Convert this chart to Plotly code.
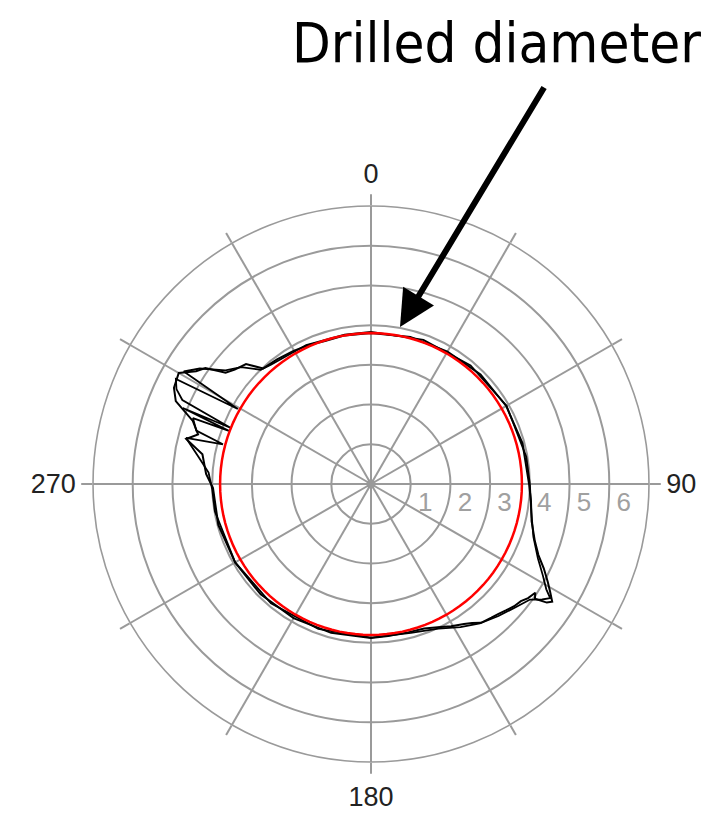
import plotly.graph_objects as go

# ---- data (theta in degrees clockwise from north, r in grid units) ----
pass1_theta = [0, 15, 30, 45, 60, 75, 90, 96, 103, 109, 113, 116, 119, 121, 123, 124, 125, 123.5,
               126, 128, 130.5, 133, 135.7, 138, 141.6, 144, 146.4, 150.6, 155, 159.8, 166, 173.6,
               180, 195, 210, 225, 240, 255, 268.5, 273.5, 280, 283.7, 286, 289.5, 293, 296, 300,
               302.8, 305, 307.4, 310, 313.8, 317, 323, 329.6, 336, 342.5, 350, 360]
pass1_r = [3.80, 3.83, 3.85, 3.90, 3.93, 3.95, 3.98, 4.05, 4.15, 4.36, 4.58, 4.84, 5.09, 5.26, 5.44,
           5.34, 5.04, 4.96, 4.89, 4.79, 4.74, 4.66, 4.58, 4.53, 4.46, 4.33, 4.23, 4.11, 3.98, 3.88,
           3.85, 3.85, 3.88, 3.88, 3.90, 3.93, 3.95, 3.98, 3.98, 4.16, 4.31, 4.79, 4.53, 4.76, 5.34,
           5.52, 5.59, 5.24, 5.09, 4.61, 4.48, 4.36, 3.98, 3.93, 3.88, 3.83, 3.78, 3.80, 3.80]

pass2_theta = [0, 20, 40, 60, 80, 90, 100, 108, 114, 118, 121, 122.5, 124, 126, 130, 136, 142, 148,
               155, 165, 180, 200, 220, 240, 260, 268, 274, 279, 284, 285, 287, 290.3, 290.5, 292,
               291.8, 294, 296, 298.3, 299.4, 301, 304, 308, 312, 316, 320, 335, 350, 360]
pass2_r = [3.83, 3.86, 3.90, 3.94, 3.97, 4.00, 4.10, 4.30, 4.60, 4.90, 5.15, 5.35, 5.20, 4.95, 4.80,
           4.62, 4.45, 4.25, 4.02, 3.88, 3.87, 3.88, 3.92, 3.95, 3.99, 4.00, 4.10, 4.40, 4.80, 3.86,
           4.60, 4.78, 3.82, 5.11, 3.80, 5.20, 5.45, 5.58, 3.85, 5.50, 5.20, 4.65, 4.40, 4.00, 3.92,
           3.86, 3.82, 3.83]

drill_theta = list(range(0, 361, 3))
drill_r = [3.8] * len(drill_theta)

radial_ticks = [1, 2, 3, 4, 5, 6, 7]
radial_text = ["1", "2", "3", "4", "5", "6", ""]
angle_ticks = list(range(0, 360, 30))
angle_text = ["0", "", "", "90", "", "", "180", "", "", "270", "", ""]

title_text = "Drilled diameter"

# ---- figure ----
W, H = 717, 819
cx, cy, R = 363, 476, 278

pad = "\u00a0" * 4
fig = go.Figure()
fig.add_trace(go.Scatterpolar(theta=pass2_theta, r=pass2_r, mode="lines",
                              line=dict(color="black", width=1.8), hoverinfo="skip"))
fig.add_trace(go.Scatterpolar(theta=pass1_theta, r=pass1_r, mode="lines",
                              line=dict(color="black", width=2), hoverinfo="skip"))
fig.add_trace(go.Scatterpolar(theta=drill_theta, r=drill_r, mode="lines",
                              line=dict(color="#ff0000", width=2.5), hoverinfo="skip"))
fig.add_trace(go.Scatterpolar(theta=[0], r=[0], mode="markers",
                              marker=dict(color="#999999", size=9), hoverinfo="skip"))

fig.update_layout(
    width=W, height=H,
    margin=dict(l=0, r=0, t=0, b=0),
    paper_bgcolor="white",
    showlegend=False,
    font=dict(family="Liberation Sans, Arial, sans-serif"),
    polar=dict(
        domain=dict(x=[(cx - R) / W, (cx + R) / W],
                    y=[(H - cy - R) / H, (H - cy + R) / H]),
        bgcolor="white",
        radialaxis=dict(range=[0, 7], tickvals=radial_ticks,
                        ticktext=[pad + t if t else t for t in radial_text],
                        angle=0, side="clockwise", showline=False, tickangle=0,
                        gridcolor="#9a9a9a", gridwidth=1.6, ticks="",
                        tickfont=dict(size=26, color="#a0a0a0")),
        angularaxis=dict(rotation=90, direction="clockwise",
                         tickvals=angle_ticks, ticktext=angle_text,
                         gridcolor="#9a9a9a", gridwidth=1.6,
                         showline=True, linecolor="#9a9a9a", linewidth=1.6,
                         ticks="outside", ticklen=11, tickcolor="#9a9a9a", tickwidth=1.6,
                         tickfont=dict(size=27, color="#222222")),
    ),
    annotations=[
        dict(text=title_text, xref="paper", yref="paper", x=695 / W, y=1,
             xanchor="right", yanchor="top", showarrow=False,
             font=dict(family="Liberation Sans Narrow, Arial Narrow, DejaVu Sans Condensed, sans-serif",
                       size=56, color="black")),
        dict(text="", xref="paper", yref="paper", x=392 / W, y=1 - 319 / H,
             ax=145, ay=-241, axref="pixel", ayref="pixel", showarrow=True,
             arrowhead=2, arrowsize=1.2, arrowwidth=6, arrowcolor="black"),
    ],
)

fig.write_html("out.html")
